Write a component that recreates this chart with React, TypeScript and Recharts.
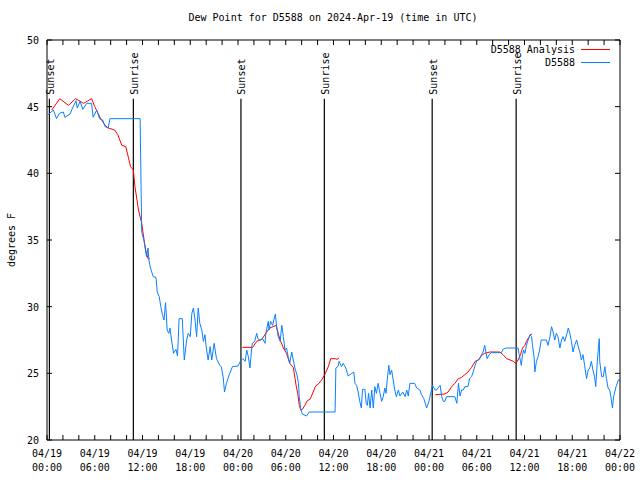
import { LineChart, Line, XAxis, YAxis, ReferenceLine, Legend } from "recharts";

const FONT = '"DejaVu Sans Mono", monospace';

// hours since 2024-04-19 00:00 UTC
const obsHours = [
  0.15, 0.8, 1.2, 1.55, 2.05, 2.25, 2.9, 3.1, 3.65, 3.8, 4.15, 4.5, 5.0, 5.6, 5.8, 6.25, 6.6, 7.0, 7.3, 7.7, 7.9,
  11.7, 11.9, 12.2, 12.5, 12.7, 12.8, 13.0, 13.35, 13.7, 13.85, 14.1, 14.3, 14.5, 14.7, 14.9, 15.1, 15.3, 15.45,
  15.65, 15.9, 16.2, 16.4, 16.6, 17.0, 17.25, 17.55, 17.75, 18.0, 18.2, 18.4, 18.6, 18.8, 19.0, 19.2, 19.45, 19.65,
  19.85, 20.0, 20.25, 20.5, 20.7, 21.0, 21.3, 21.7, 21.9, 22.15, 22.3, 22.55, 22.9, 23.3, 24.0, 24.3, 24.6, 24.9,
  25.1, 25.3, 25.5, 25.7, 25.8, 26.1, 26.35, 26.5, 26.75, 27.1, 27.4, 27.5, 27.8, 27.9, 28.1, 28.35, 28.5, 28.7,
  28.85, 29.05, 29.3, 29.5, 29.7, 29.9, 30.1, 30.3, 30.5, 30.75, 30.95, 31.15, 31.4, 31.6, 31.7, 31.9, 32.1, 32.6,
  32.95, 36.2, 36.3, 36.6, 36.7, 37.0, 37.2, 37.55, 37.85, 38.3, 38.55, 38.7, 38.9, 39.1, 39.3, 39.5, 39.65, 39.95,
  40.1, 40.25, 40.4, 40.6, 40.8, 41.0, 41.2, 41.4, 41.6, 41.85, 42.05, 42.25, 42.45, 42.6, 42.75, 42.95, 43.1, 43.3,
  43.5, 43.7, 43.9, 44.15, 44.35, 44.7, 45.0, 45.2, 45.4, 45.6, 46.2, 46.45, 46.85, 47.05, 47.35, 47.7, 48.0, 48.2,
  48.45, 48.75, 48.95, 49.4, 49.6, 49.8, 50.0, 50.2, 51.25, 51.5, 51.7, 51.9, 52.1, 52.3, 52.5, 52.9, 53.1, 53.35,
  53.55, 53.8, 54.0, 54.2, 54.4, 54.6, 54.8, 55.0, 55.15, 55.3, 55.55, 55.85, 57.1, 57.3, 57.7, 59.2, 59.3, 59.5,
  59.6, 59.75, 59.9, 60.05, 60.25, 60.45, 60.7, 60.9, 61.0, 61.2, 61.3, 61.5, 61.7, 61.9, 62.1, 62.75, 62.95, 63.2,
  63.4, 63.6, 63.8, 64.0, 64.2, 64.45, 64.65, 64.85, 65.05, 65.3, 65.5, 65.7, 65.9, 66.1, 66.3, 66.55, 66.75, 66.95,
  67.15, 67.35, 67.55, 67.8, 68.0, 68.2, 68.4, 68.6, 68.8, 68.95, 69.15, 69.3, 69.4, 69.45, 69.7, 69.9, 70.1, 70.3,
  70.5, 70.7, 70.85, 71.05, 71.2, 71.5, 71.8, 72.0,
];
const obsDewpt = [
  44.4, 44.75, 44.1, 44.5, 44.6, 44.2, 44.45, 44.75, 45.45, 44.9, 45.4, 44.8, 45.25, 45.25, 44.2, 44.75, 44.1, 44.0, 43.5, 43.4, 44.1,
  44.1, 35.6, 34.9, 33.75, 34.4, 33.5, 32.9, 32.25, 32.2, 31.1, 30.75, 30.0, 29.4, 29.0, 30.3, 28.25, 28.0, 28.4,
  27.5, 26.5, 26.8, 26.3, 29.1, 29.1, 26.0, 27.5, 28.0, 27.75, 29.5, 29.9, 29.0, 27.75, 29.9, 28.75, 28.25, 27.4,
  27.9, 27.0, 26.0, 27.0, 26.0, 27.25, 26.1, 25.6, 25.5, 24.65, 23.6, 24.25, 24.9, 25.5, 25.55, 25.9, 26.1, 25.9,
  26.75, 26.25, 25.4, 26.75, 27.25, 27.4, 28.0, 27.6, 27.5, 27.6, 27.25, 28.0, 28.9, 28.25, 28.9, 28.6, 29.0, 29.45,
  28.5, 27.75, 27.4, 28.6, 27.75, 26.75, 26.9, 26.25, 25.75, 26.6, 26.0, 25.4, 24.9, 24.25, 23.25, 22.25, 21.95, 21.8,
  22.1, 22.1, 25.4, 25.55, 25.9, 25.5, 25.75, 25.4, 24.8, 25.0, 25.1, 24.25, 24.1, 23.6, 22.9, 22.4, 23.8, 23.8,
  22.75, 22.6, 23.5, 22.4, 23.75, 22.4, 24.0, 23.5, 24.25, 23.5, 22.9, 23.25, 23.9, 23.5, 24.5, 25.6, 24.9, 25.25,
  24.5, 23.75, 23.25, 23.75, 23.3, 23.6, 23.25, 23.75, 23.3, 24.25, 24.25, 23.9, 23.75, 23.4, 23.1, 22.4, 22.9, 23.5,
  24.1, 23.75, 23.75, 24.1, 23.25, 22.9, 22.9, 23.25, 23.25, 22.75, 24.25, 23.3, 23.75, 23.75, 24.0, 24.0, 24.6, 24.75,
  25.1, 25.6, 25.95, 26.0, 26.1, 26.4, 26.6, 27.1, 26.6, 26.1, 26.4, 26.55, 26.55, 26.8, 26.9, 26.9, 26.5, 25.9,
  25.6, 26.4, 26.75, 26.5, 27.1, 27.5, 27.9, 27.75, 27.1, 26.25, 25.1, 25.9, 26.25, 26.75, 27.5, 27.5, 27.1, 27.75,
  28.5, 28.1, 27.5, 28.0, 27.75, 26.9, 27.5, 27.75, 27.4, 27.9, 28.4, 28.0, 27.4, 26.6, 27.1, 27.5, 27.0, 26.6,
  26.0, 26.4, 25.6, 24.6, 25.25, 25.4, 25.9, 25.25, 24.75, 24.0, 25.9, 27.0, 27.6, 25.9, 24.75, 24.75, 25.5, 24.6,
  23.9, 23.75, 23.25, 22.4, 23.25, 24.0, 24.5, 24.5,
];

// analysis series, null marks a gap between runs
const anaHours = [
  0.6, 1.6, 2.7, 3.6, 4.6, 5.6, 6.0, 6.7, 7.3, 7.7, 8.5, 8.9, 9.4, 9.9, 10.2, 10.5, 10.85, 11.05, 11.5, 11.9, 12.2,
  12.4, 12.7, 12.9,
  18,
  24.55, 25.85, 26.35, 27.0, 27.6, 28.0, 28.8, 29.05, 29.3, 29.7, 30.1, 30.5, 30.95, 31.3, 31.5, 31.7, 31.9, 32.1,
  32.4, 32.7, 33.05, 33.45, 33.75, 34.1, 34.5, 34.9, 35.35, 35.65, 36.2, 36.45, 36.7,
  42,
  48.8, 50.0, 50.4, 50.85, 51.25, 51.7, 52.1, 52.5, 52.9, 53.35, 53.8, 54.2, 54.6, 55.0, 55.65, 56.9, 57.3, 57.75,
  58.2, 58.6, 58.9, 59.2, 59.5, 59.75, 60.05, 60.25, 60.45, 60.75, 60.95,
];
const anaDewpt = [
  44.75, 45.6, 45.1, 45.6, 45.25, 45.6, 45.0, 44.15, 43.6, 43.4, 43.25, 42.9, 42.1, 42.0, 41.25, 40.5, 40.25, 39.0,
  37.25, 36.25, 35.0, 34.25, 33.6, 33.6,
  null,
  26.95, 26.95, 27.4, 27.55, 28.1, 28.4, 28.6, 28.0, 27.5, 26.9, 26.5, 25.75, 25.45, 24.1, 23.5, 22.6, 22.25, 22.3,
  22.6, 22.95, 23.05, 23.6, 24.05, 24.2, 24.5, 24.9, 25.5, 26.1, 26.1, 26.05, 26.15,
  null,
  23.4, 23.45, 23.6, 24.0, 24.25, 24.6, 24.7, 24.9, 25.1, 25.45, 25.9, 26.0, 26.35, 26.5, 26.6, 26.6, 26.4, 26.1,
  26.0, 25.9, 25.75, 26.0, 26.4, 26.9, 27.1, 27.4, 27.6, 27.9, 27.95,
];

const sunLabels = ["Sunset", "Sunrise", "Sunset", "Sunrise", "Sunset", "Sunrise"];
const sunHours = [0.3, 10.85, 24.37, 34.85, 48.4, 58.95];

const xTicks = Array.from({ length: 37 }, (_, i) => i * 2);
const yTicks = [20, 25, 30, 35, 40, 45, 50];

const seriesNames = ["D5588 Analysis", "D5588"];
const seriesColors = ["#ff0000", "#0a80ff"];

const obsData = obsHours.map((h, i) => ({ h, v: obsDewpt[i] }));
const anaData = anaHours.map((h, i) => ({ h, v: anaDewpt[i] }));

const pad = (n: number) => (n < 10 ? "0" + n : "" + n);

const BottomTick = ({ x, y, payload }: any) => {
  const h = payload.value;
  const day = 19 + Math.floor(h / 24);
  return (
    <g>
      <line x1={x} x2={x} y1={y} y2={y - 5} stroke="#000" />
      {h % 6 === 0 && (
        <text x={x} y={y} textAnchor="middle" fontFamily={FONT} fontSize={10} fill="#000">
          <tspan x={x} dy={17}>{`04/${day}`}</tspan>
          <tspan x={x} dy={14}>{`${pad(h % 24)}:00`}</tspan>
        </text>
      )}
    </g>
  );
};

const TopTick = ({ x, y }: any) => <line x1={x} x2={x} y1={y} y2={y + 5} stroke="#000" />;

const LeftTick = ({ x, y, payload }: any) => (
  <g>
    <line x1={x} x2={x + 5} y1={y} y2={y} stroke="#000" />
    <text x={x - 8} y={y} dy={4} textAnchor="end" fontFamily={FONT} fontSize={10} fill="#000">
      {payload.value}
    </text>
  </g>
);

const RightTick = ({ x, y }: any) => <line x1={x} x2={x - 5} y1={y} y2={y} stroke="#000" />;

const sunLabel = (text: string) => (props: any) => {
  const vb = props.viewBox;
  const x = vb.x + 1;
  const y = vb.y - 4;
  return (
    <text
      x={x}
      y={y}
      transform={`rotate(-90 ${x} ${y})`}
      dominantBaseline="central"
      textAnchor="start"
      fontFamily={FONT}
      fontSize={10}
      fill="#000"
    >
      {text}
    </text>
  );
};

const renderLegend = () => (
  <div style={{ fontFamily: FONT, fontSize: 10, color: "#000" }}>
    {seriesNames.map((n, i) => (
      <div key={n} style={{ display: "flex", justifyContent: "flex-end", alignItems: "center", height: 13 }}>
        <span>{n}</span>
        <span style={{ display: "inline-block", width: 29, marginLeft: 6, borderTop: `1px solid ${seriesColors[i]}` }} />
      </div>
    ))}
  </div>
);

export default function App() {
  return (
    <div style={{ position: "absolute", left: 0, top: 0, width: 640, height: 480, background: "#fff" }}>
      <div
        style={{
          position: "absolute",
          left: 0,
          width: 666,
          top: 12,
          textAlign: "center",
          fontFamily: FONT,
          fontSize: 10,
          color: "#000",
        }}
      >
        Dew Point for D5588 on 2024-Apr-19 (time in UTC)
      </div>
      <LineChart width={640} height={480} margin={{ top: 30, right: 0, bottom: 0, left: 0 }}>
        <XAxis
          xAxisId="b"
          dataKey="h"
          type="number"
          domain={[0, 72]}
          ticks={xTicks}
          interval={0}
          height={40}
          tickLine={false}
          tickSize={0}
          tickMargin={0}
          tick={<BottomTick />}
          axisLine={{ stroke: "#000" }}
        />
        <XAxis
          xAxisId="t"
          orientation="top"
          dataKey="h"
          type="number"
          domain={[0, 72]}
          ticks={xTicks}
          interval={0}
          height={10}
          tickLine={false}
          tickSize={0}
          tickMargin={0}
          tick={<TopTick />}
          axisLine={{ stroke: "#000" }}
        />
        <YAxis
          yAxisId="l"
          type="number"
          domain={[20, 50]}
          ticks={yTicks}
          interval={0}
          width={47}
          tickLine={false}
          tickSize={0}
          tickMargin={0}
          tick={<LeftTick />}
          axisLine={{ stroke: "#000" }}
          label={{
            content: () => (
              <text
                x={11}
                y={240}
                transform="rotate(-90 11 240)"
                textAnchor="middle"
                dominantBaseline="central"
                fontFamily={FONT}
                fontSize={10}
                fill="#000"
              >
                degrees F
              </text>
            ),
          }}
        />
        <YAxis
          yAxisId="r"
          orientation="right"
          type="number"
          domain={[20, 50]}
          ticks={yTicks}
          interval={0}
          width={20}
          tickLine={false}
          tickSize={0}
          tickMargin={0}
          tick={<RightTick />}
          axisLine={{ stroke: "#000" }}
        />
        {sunHours.map((h, i) => (
          <ReferenceLine
            key={i}
            xAxisId="b"
            yAxisId="l"
            segment={[
              { x: h, y: 45.6 },
              { x: h, y: 20 },
            ]}
            stroke="#000"
            strokeWidth={1.2}
            label={sunLabel(sunLabels[i])}
          />
        ))}
        <Line
          xAxisId="t"
          yAxisId="r"
          data={anaData}
          dataKey="v"
          name={seriesNames[0]}
          stroke={seriesColors[0]}
          strokeWidth={1}
          dot={false}
          connectNulls={false}
          isAnimationActive={false}
        />
        <Line
          xAxisId="b"
          yAxisId="l"
          data={obsData}
          dataKey="v"
          name={seriesNames[1]}
          stroke={seriesColors[1]}
          strokeWidth={1}
          dot={false}
          isAnimationActive={false}
        />
        <Legend
          layout="vertical"
          align="center"
          verticalAlign="middle"
          content={renderLegend}
          wrapperStyle={{ left: 440, top: 43, width: 170 }}
        />
      </LineChart>
    </div>
  );
}
